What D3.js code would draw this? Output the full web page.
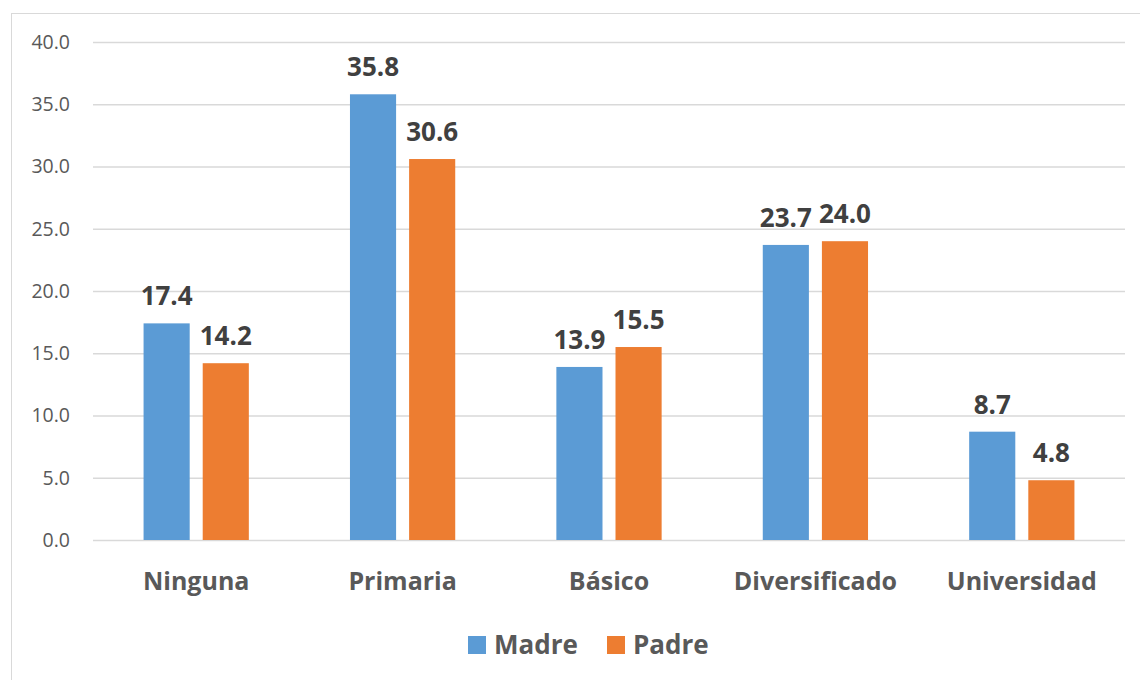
<!DOCTYPE html>
<html>
  <head>
    <meta charset="utf-8">
    <title>Madre / Padre</title>
<style>
  body { margin: 0; background: #fff; }
  #viz { width: 1140px; height: 680px; }
  .tick text { font-family: "Open Sans", sans-serif; }
</style>
  </head>
  <body>
    <div id="viz"></div>

  <script src="https://cdn.jsdelivr.net/npm/d3@7"></script>
  <script>
    var categories = ["Ninguna", "Primaria", "Básico", "Diversificado", "Universidad"];
    var madre = [17.4, 35.8, 13.9, 23.7, 8.7];
    var padre = [14.2, 30.6, 15.5, 24.0, 4.8];
    var seriesNames = ["Madre", "Padre"];
    var yTicks = [0, 5, 10, 15, 20, 25, 30, 35, 40];

    (function() {
      var W = 1140, H = 680;
      var margin = {top: 42, right: 15, bottom: 140, left: 93},
          width = 1125 - margin.left,
          height = 540 - margin.top;

      var color = d3.scaleOrdinal().domain(seriesNames).range(["#5B9BD5", "#ED7D31"]);

      var data = categories.map(function(c, i) {
        return { cat: c, values: [{ s: "Madre", v: madre[i] }, { s: "Padre", v: padre[i] }] };
      });

      var x0 = d3.scaleBand().domain(categories).range([0, width]).paddingInner(0.49).paddingOuter(0.245);
      var x1 = d3.scaleBand().domain(seriesNames).range([0, x0.bandwidth()]).paddingInner(0.22);
      var y = d3.scaleLinear().domain([0, 40]).range([height, 0]);

      var svg = d3.select("#viz").append("svg")
          .attr("width", W)
          .attr("height", H);

      // chart border
      svg.append("rect")
          .attr("x", 11.5).attr("y", 13.5)
          .attr("width", W).attr("height", H)
          .attr("fill", "none")
          .attr("stroke", "#d9d9d9")
          .attr("stroke-width", 1);

      var g = svg.append("g")
          .attr("transform", "translate(" + margin.left + "," + margin.top + ")");

      // y axis + gridlines
      var yAxis = g.append("g")
          .call(d3.axisLeft(y).tickValues(yTicks).tickFormat(d3.format(".1f")).tickSize(-width).tickPadding(23));
      yAxis.select(".domain").remove();
      yAxis.selectAll("line").attr("stroke", "#d9d9d9").attr("stroke-width", 1.3);
      yAxis.selectAll("text")
          .attr("fill", "#595959")
          .style("font-size", "19.5px");

      // x labels
      var xAxis = g.append("g")
          .attr("transform", "translate(0," + height + ")")
          .call(d3.axisBottom(x0).tickSize(0).tickPadding(32));
      xAxis.select(".domain").remove();
      xAxis.selectAll("text")
          .attr("fill", "#595959")
          .style("font-size", "25px")
          .style("font-weight", "bold");

      var groups = g.selectAll(".cat")
          .data(data)
        .enter().append("g")
          .attr("class", "cat")
          .attr("transform", function(d) { return "translate(" + x0(d.cat) + ",0)"; });

      groups.selectAll("rect")
          .data(function(d) { return d.values; })
        .enter().append("rect")
          .attr("x", function(d) { return x1(d.s); })
          .attr("width", x1.bandwidth())
          .attr("y", function(d) { return y(d.v); })
          .attr("height", function(d) { return height - y(d.v); })
          .attr("fill", function(d) { return color(d.s); });

      groups.selectAll(".lbl")
          .data(function(d) { return d.values; })
        .enter().append("text")
          .attr("class", "lbl")
          .attr("x", function(d) { return x1(d.s) + x1.bandwidth() / 2; })
          .attr("y", function(d) { return y(d.v) - 18; })
          .attr("text-anchor", "middle")
          .attr("fill", "#404040")
          .style("font-family", "'Open Sans', sans-serif")
          .style("font-size", "26px")
          .style("font-weight", "bold")
          .text(function(d) { return d3.format(".1f")(d.v); });

      // legend
      var legend = svg.selectAll(".legend")
          .data(seriesNames)
        .enter().append("g")
          .attr("class", "legend")
          .attr("transform", function(d, i) { return "translate(" + (468 + i * 139) + ",636)"; });

      legend.append("rect")
          .attr("width", 18)
          .attr("height", 18)
          .attr("fill", function(d) { return color(d); });

      legend.append("text")
          .attr("x", 26)
          .attr("y", 9)
          .attr("dy", ".36em")
          .attr("fill", "#595959")
          .style("font-family", "'Open Sans', sans-serif")
          .style("font-size", "26px")
          .style("font-weight", "bold")
          .text(function(d) { return d; });
    })();
  </script>
  </body>
</html>
